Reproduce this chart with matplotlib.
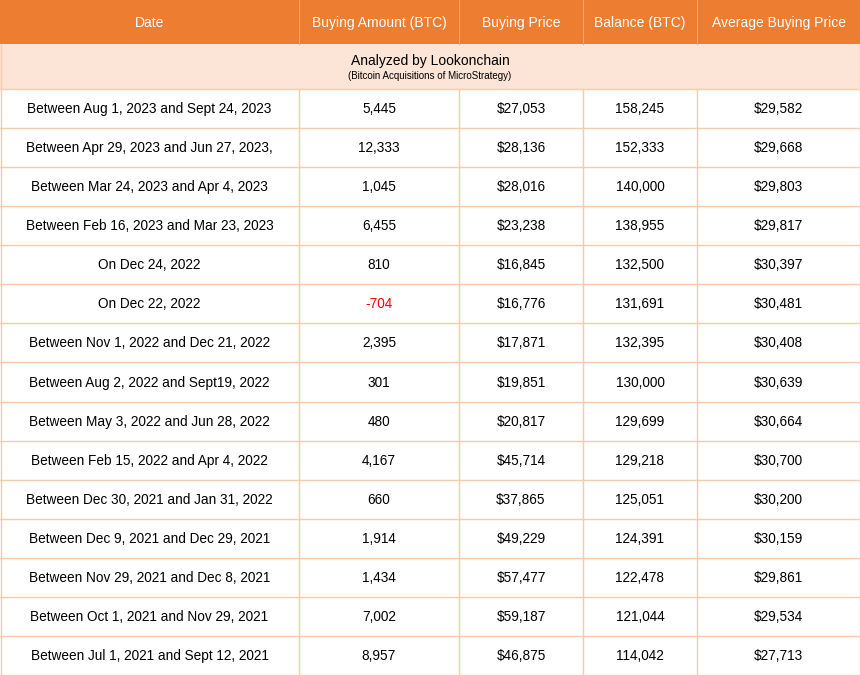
import matplotlib
matplotlib.use("Agg")
import matplotlib.pyplot as plt
from matplotlib.patches import Rectangle

headers = ["Date", "Buying Amount (BTC)", "Buying Price", "Balance (BTC)", "Average Buying Price"]
dates = ["Between Aug 1, 2023 and Sept 24, 2023", "Between Apr 29, 2023 and Jun 27, 2023,",
         "Between Mar 24, 2023 and Apr 4, 2023", "Between Feb 16, 2023 and Mar 23, 2023",
         "On Dec 24, 2022", "On Dec 22, 2022", "Between Nov 1, 2022 and Dec 21, 2022",
         "Between Aug 2, 2022 and Sept19, 2022", "Between May 3, 2022 and Jun 28, 2022",
         "Between Feb 15, 2022 and Apr 4, 2022", "Between Dec 30, 2021 and Jan 31, 2022",
         "Between Dec 9, 2021 and Dec 29, 2021", "Between Nov 29, 2021 and Dec 8, 2021",
         "Between Oct 1, 2021 and Nov 29, 2021", "Between Jul 1, 2021 and Sept 12, 2021"]
amounts = [5445, 12333, 1045, 6455, 810, -704, 2395, 301, 480, 4167, 660, 1914, 1434, 7002, 8957]
prices = [27053, 28136, 28016, 23238, 16845, 16776, 17871, 19851, 20817, 45714, 37865, 49229, 57477, 59187, 46875]
balances = [158245, 152333, 140000, 138955, 132500, 131691, 132395, 130000, 129699, 129218, 125051, 124391, 122478, 121044, 114042]
avg_prices = [29582, 29668, 29803, 29817, 30397, 30481, 30408, 30639, 30664, 30700, 30200, 30159, 29861, 29534, 27713]
title = "Analyzed by Lookonchain"
subtitle = "(Bitcoin Acquisitions of MicroStrategy)"

plt.rcParams["font.family"] = "Liberation Sans"
W, H = 860, 675
col_edges = [0, 299, 459, 583, 697, 860]
header_h, sub_h = 44, 45
row_h = (H - header_h - sub_h) / len(dates)
border = "#F8CBAD"

fig = plt.figure(figsize=(8.6, 6.75), dpi=100)
ax = fig.add_axes([0, 0, 1, 1])
ax.set_xlim(0, W)
ax.set_ylim(H, 0)
ax.axis("off")

ax.add_patch(Rectangle((0, 0), W, header_h, color="#ED7D31", lw=0))
ax.add_patch(Rectangle((0, header_h), W, sub_h, color="#FCE4D6", lw=0))
for i in range(len(headers)):
    cx = (col_edges[i] + col_edges[i + 1]) / 2
    ax.text(cx, header_h / 2 + 1, headers[i], ha="center", va="center", color="white", fontsize=10)
for x in col_edges[1:-1]:
    ax.plot([x, x], [0, header_h], color="#F4A470", lw=0.8)
ax.text(W / 2, header_h + 16.5, title, ha="center", va="center", fontsize=10)
ax.text(W / 2, header_h + 32, subtitle, ha="center", va="center", fontsize=7)

for r in range(len(dates)):
    y0 = header_h + sub_h + r * row_h
    cy = y0 + row_h / 2 + 0.5
    vals = [dates[r], f"{amounts[r]:,}", f"${prices[r]:,}", f"{balances[r]:,}", f"${avg_prices[r]:,}"]
    for i, v in enumerate(vals):
        cx = (col_edges[i] + col_edges[i + 1]) / 2
        color = "red" if (i == 1 and amounts[r] < 0) else "black"
        ax.text(cx, cy, v, ha="center", va="center", fontsize=9.8, color=color)
    ax.plot([0, W], [y0, y0], color=border, lw=1)
    for x in col_edges[1:-1]:
        ax.plot([x, x], [y0, y0 + row_h], color=border, lw=1)
ax.plot([0, W], [H - 0.5, H - 0.5], color=border, lw=1)
ax.plot([0.5, 0.5], [header_h, H], color=border, lw=1)
ax.plot([W - 0.5, W - 0.5], [header_h, H], color=border, lw=1)

fig.savefig("out.png", dpi=100)
